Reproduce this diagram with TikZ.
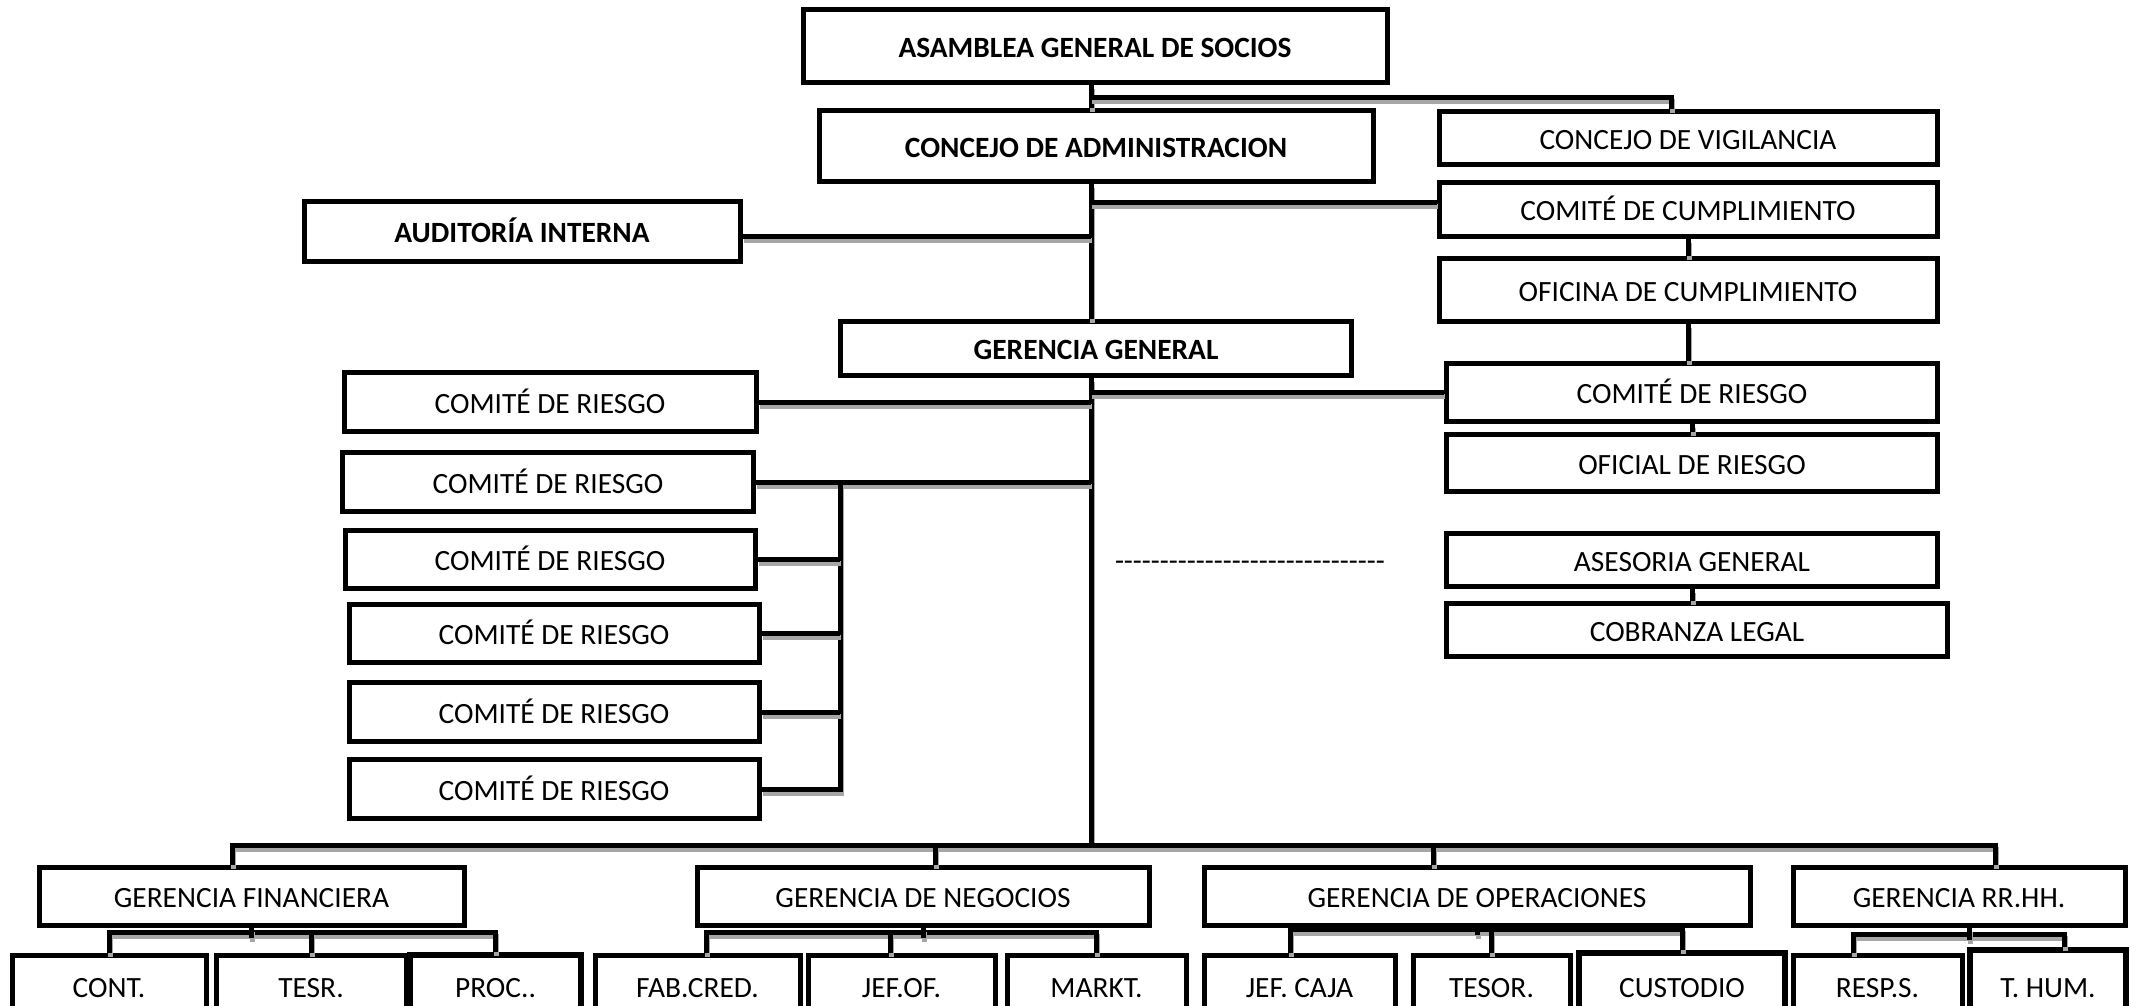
\documentclass[tikz,border=0pt]{standalone}
\usepackage{fontspec}
\setmainfont{Carlito}
\newcommand\hy{-\kern0pt}
\begin{document}
\begin{tikzpicture}[x=0.5pt,y=-0.5pt,
  box/.style={draw, line width=2.5pt, fill=white, inner sep=0pt, align=center,
    font=\fontsize{14.7}{16}\selectfont, text height=11.3pt, text depth=0pt},
  bb/.style={box, font=\bfseries\fontsize{14.7}{16}\selectfont},
  tb/.style={box, line width=3pt},
  sz/.style 2 args={minimum width=#1*0.5pt, minimum height=#2*0.5pt},
  conn/.style={line width=2.5pt, preaction={draw=gray!70, line width=2.5pt,
    transform canvas={xshift=0.5pt,yshift=-2pt}}},
]
\useasboundingbox (0,0) rectangle (2130,1006);
\fill[white] (0,0) rectangle (2130,1006);
\clip (0,0) rectangle (2130,1006);

\coordinate (spine) at (1091,845);
\coordinate (bL) at (232,845);
\coordinate (bR) at (1995,845);
\coordinate (j1) at (1091,98);
\coordinate (lb) at (840,482);

% ---- nodes ----
\node[bb, sz={584}{73}] (asam) at (1095,46.5) {ASAMBLEA GENERAL DE SOCIOS};
\node[bb, sz={554}{70}] (cadm) at (1096,146) {CONCEJO DE ADMINISTRACION};
\node[box, sz={498}{53}] (cvig) at (1688,138) {CONCEJO DE VIGILANCIA};
\node[box, sz={498}{54}] (ccum) at (1688,209) {COMITÉ DE CUMPLIMIENTO};
\node[box, sz={498}{63}] (ocum) at (1688,290) {OFICINA DE CUMPLIMIENTO};
\node[bb, sz={436}{60}] (aud) at (522,231) {AUDITORÍA INTERNA};
\node[bb, sz={511}{54}] (gg) at (1096,348) {GERENCIA GENERAL};

\node[box, sz={412}{59}] (cr1) at (550,402) {COMITÉ DE RIESGO};
\node[box, sz={411}{59}] (cr2) at (548,482) {COMITÉ DE RIESGO};
\node[box, sz={410}{58}] (cr3) at (550,559) {COMITÉ DE RIESGO};
\node[box, sz={410}{58}] (cr4) at (554,633) {COMITÉ DE RIESGO};
\node[box, sz={410}{59}] (cr5) at (554,712) {COMITÉ DE RIESGO};
\node[box, sz={410}{59}] (cr6) at (554,789) {COMITÉ DE RIESGO};

\node[box, sz={491}{58}] (crR) at (1692,392) {COMITÉ DE RIESGO};
\node[box, sz={491}{57}] (ofR) at (1692,463) {OFICIAL DE RIESGO};
\node[box, sz={491}{53}] (ases) at (1692,560) {ASESORIA GENERAL};
\node[box, sz={501}{53}] (cobr) at (1697,630) {COBRANZA LEGAL};

\node[font=\fontsize{14.7}{16}\selectfont, inner sep=0pt] (dash) at (1250,566)
  {\hy\hy\hy\hy\hy\hy\hy\hy\hy\hy\hy\hy\hy\hy\hy\hy\hy\hy\hy\hy\hy\hy\hy\hy\hy\hy\hy\hy\hy\hy};

\node[box, sz={425}{58}] (gfin) at (251.5,896) {GERENCIA FINANCIERA};
\node[box, sz={452}{58}] (gneg) at (923,896) {GERENCIA DE NEGOCIOS};
\node[box, sz={546}{58}] (gop) at (1477,896) {GERENCIA DE OPERACIONES};
\node[box, sz={332}{58}] (grh) at (1959,896) {GERENCIA RR.HH.};

\node[box, sz={194}{62}] (cont) at (109,986) {CONT.};
\node[box, sz={190}{62}] (tesr) at (311,986) {TESR.};
\node[tb, sz={171}{62}] (proc) at (495.5,986) {PROC..};
\node[box, sz={205}{62}] (fab) at (697.5,986) {FAB.CRED.};
\node[box, sz={187}{62}] (jefof) at (901.5,986) {JEF.OF.};
\node[box, sz={179}{62}] (markt) at (1096.5,986) {MARKT.};
\node[box, sz={191}{62}] (jcaja) at (1299.5,986) {JEF. CAJA};
\node[box, sz={157}{62}] (tesor) at (1491.5,986) {TESOR.};
\node[tb, sz={206}{66}] (cust) at (1682,986) {CUSTODIO};
\node[box, sz={169}{62}] (resp) at (1877.5,986) {RESP.S.};
\node[tb, sz={156}{72}] (thum) at (2048,986) {T. HUM.};

% ---- connectors ----
\draw[conn] (asam.south -| spine) -- (cadm.north -| spine);
\draw[conn] (j1) -| ([xshift=-8.5pt]cvig.north);
\draw[conn] (cadm.south -| spine) -- (gg.north -| spine);
\draw[conn] ([yshift=3.5pt]ccum.west) -- ([yshift=3.5pt]ccum.west -| spine);
\draw[conn] ([yshift=-2.5pt]aud.east) -- ([yshift=-2.5pt]aud.east -| spine);
\draw[conn] (ccum.south) -- (ocum.north);
\draw[conn] (ocum.south) -- (ocum.south |- crR.north);
\draw[conn] (crR.south) -- (crR.south |- ofR.north);
\draw[conn] (ases.south) -- (ases.south |- cobr.north);

\draw[conn] (gg.south -| spine) -- (spine);
\draw[conn] (crR.west) -- (crR.west -| spine);
\draw[conn] (cr1.east) -- (cr1.east -| spine);
\draw[conn] (cr2.east) -- (cr2.east -| spine);
\draw[conn] (lb) -- (lb |- cr6.east) -- (cr6.east);
\draw[conn] (cr3.east) -- (cr3.east -| lb);
\draw[conn] (cr4.east) -- (cr4.east -| lb);
\draw[conn] (cr5.east) -- (cr5.east -| lb);

\draw[conn] (bL |- gfin.north) -- (bL) -- (bR) -- (bR |- grh.north);
\draw[conn] ([xshift=6pt]gneg.north) -- ([xshift=6pt]gneg.north |- spine);
\draw[conn] ([xshift=-22pt]gop.north) -- ([xshift=-22pt]gop.north |- spine);

\draw[conn] (cont.north) -- ++(0,-20) -| (proc.north);
\draw[conn] (tesr.north) -- ++(0,-20);
\draw[conn] (gfin.south) -- ++(0,10);

\draw[conn] ([xshift=4.5pt]fab.north) -- ++(0,-20) -| (markt.north);
\draw[conn] ([xshift=-5.5pt]jefof.north) -- ++(0,-20);
\draw[conn] (gneg.south) -- ++(0,10);

\draw[conn] ([xshift=-4.5pt]jcaja.north) -- ++(0,-23) -| (cust.north);
\draw[conn] (tesor.north) -- ++(0,-23);
\draw[conn] (gop.south) -- ++(0,7);

\draw[conn] ([xshift=-12pt]resp.north) -- ++(0,-18) -| ([xshift=8pt]thum.north);
\draw[conn] ([xshift=5pt]grh.south) -- ++(0,12);
\end{tikzpicture}
\end{document}
